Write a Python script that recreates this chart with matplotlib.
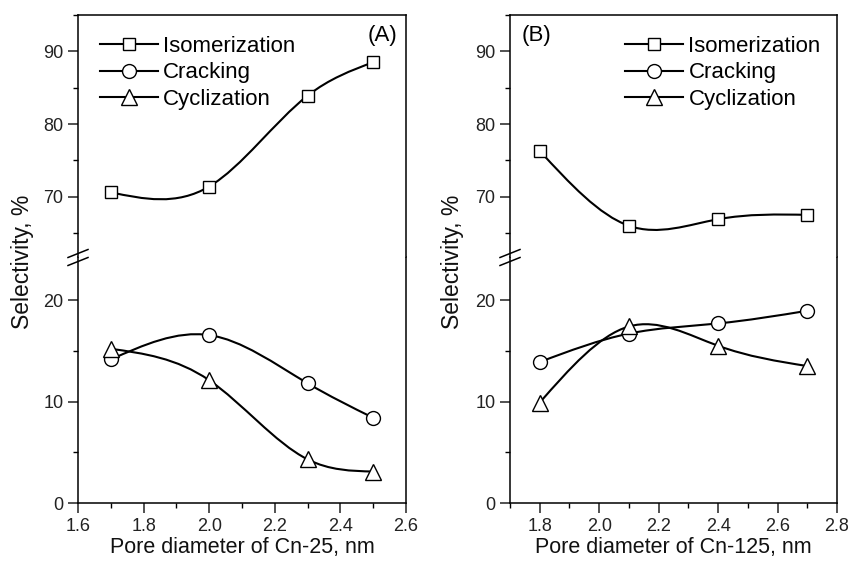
import numpy as np
import matplotlib
matplotlib.use('Agg')
import matplotlib.pyplot as plt
from matplotlib.path import Path
from matplotlib.patches import PathPatch
from matplotlib.lines import Line2D
from matplotlib.ticker import MultipleLocator

plt.rcParams['font.family'] = ['Liberation Sans', 'DejaVu Sans']

# panel A: Cn-25
x_a = [1.7, 2.0, 2.3, 2.5]
iso_a = [70.6, 71.4, 83.9, 88.5]
crack_a = [14.15, 16.55, 11.8, 8.4]
cycl_a = [15.2, 12.1, 4.3, 3.1]

# panel B: Cn-125
x_b = [1.8, 2.1, 2.4, 2.7]
iso_b = [76.3, 66.0, 66.9, 67.5]
crack_b = [13.9, 16.7, 17.7, 18.95]
cycl_b = [9.9, 17.4, 15.5, 13.5]

series_names = ['Isomerization', 'Cracking', 'Cyclization']
markers = ['s', 'o', '^']
msizes = [9, 10, 12]


def spline_path(x, y):
    # natural cubic spline through the points, as bezier segments
    x = np.asarray(x, float)
    y = np.asarray(y, float)
    n = len(x)
    h = np.diff(x)
    A = np.zeros((n, n))
    b = np.zeros(n)
    A[0, 0] = A[-1, -1] = 1
    for i in range(1, n - 1):
        A[i, i - 1] = h[i - 1]
        A[i, i] = 2 * (h[i - 1] + h[i])
        A[i, i + 1] = h[i]
        b[i] = 6 * ((y[i + 1] - y[i]) / h[i] - (y[i] - y[i - 1]) / h[i - 1])
    M = np.linalg.solve(A, b)
    verts = [(x[0], y[0])]
    codes = [Path.MOVETO]
    for i in range(n - 1):
        s = (y[i + 1] - y[i]) / h[i]
        m0 = s - h[i] * (2 * M[i] + M[i + 1]) / 6
        m1 = s + h[i] * (M[i] + 2 * M[i + 1]) / 6
        verts += [(x[i] + h[i] / 3, y[i] + h[i] * m0 / 3),
                  (x[i + 1] - h[i] / 3, y[i + 1] - h[i] * m1 / 3),
                  (x[i + 1], y[i + 1])]
        codes += [Path.CURVE4] * 3
    return Path(verts, codes)


def draw_series(ax, x, y, marker, ms):
    ax.add_patch(PathPatch(spline_path(x, y), fill=False, ec='black', lw=1.5, zorder=2))
    ax.plot(x, y, ls='none', marker=marker, ms=ms, mfc='white', mec='black',
            mew=1.0, zorder=3, clip_on=False)


W, H = 852, 564
fig = plt.figure(figsize=(W / 100, H / 100), dpi=100)

top_px, brk_px, bot_px = 15, 257, 503
panels = [
    dict(x0=78, w=328, xlim=(1.6, 2.6), xt=np.arange(1.6, 2.61, 0.2), x=x_a,
         data=[iso_a, crack_a, cycl_a], tag='(A)', tagpos=(0.973, 0.917), tagha='right',
         xlabel='Pore diameter of Cn-25, nm', legpos=(0.067, 0.915), ylab_x=22),
    dict(x0=510, w=327, xlim=(1.7, 2.8), xt=np.arange(1.8, 2.81, 0.2), x=x_b,
         data=[iso_b, crack_b, cycl_b], tag='(B)', tagpos=(0.037, 0.917), tagha='left',
         xlabel='Pore diameter of Cn-125, nm', legpos=(0.352, 0.915), ylab_x=452),
]

for p in panels:
    lower = fig.add_axes([p['x0'] / W, (H - bot_px) / H, p['w'] / W, (bot_px - brk_px) / H])
    upper = fig.add_axes([p['x0'] / W, (H - brk_px) / H, p['w'] / W, (brk_px - top_px) / H])

    lower.set_ylim(0, 24.25)
    upper.set_ylim(61.7, 95)
    for ax in (lower, upper):
        ax.set_xlim(*p['xlim'])
        for s in ax.spines.values():
            s.set_linewidth(1.1)
        ax.tick_params(which='major', direction='out', length=7, width=1.1,
                       labelsize=13, colors='#222222', right=False, top=False)
        ax.tick_params(which='minor', direction='out', length=3.6, width=1.0,
                       right=False, top=False)
    lower.spines['top'].set_visible(False)
    upper.spines['bottom'].set_visible(False)

    lower.set_xticks(p['xt'])
    lower.set_xticklabels(['%.1f' % v for v in p['xt']])
    lower.xaxis.set_minor_locator(MultipleLocator(0.1))
    lower.set_yticks([0, 10, 20])
    lower.yaxis.set_minor_locator(MultipleLocator(5))
    upper.set_yticks([70, 80, 90])
    upper.yaxis.set_minor_locator(MultipleLocator(5))
    upper.tick_params(axis='x', which='both', bottom=False, labelbottom=False)
    lower.set_xlabel(p['xlabel'], fontsize=15.5, labelpad=2, color='#111111')

    draw_series(upper, p['x'], p['data'][0], markers[0], msizes[0])
    draw_series(lower, p['x'], p['data'][1], markers[1], msizes[1])
    draw_series(lower, p['x'], p['data'][2], markers[2], msizes[2])

    handles = [Line2D([], [], color='black', lw=1.5, marker=m, ms=ms, mfc='white',
                      mec='black', mew=1.0) for m, ms in zip(markers, msizes)]
    upper.legend(handles, series_names, loc='upper left', bbox_to_anchor=p['legpos'],
                 frameon=False, fontsize=16, handlelength=2.6, handletextpad=0.25,
                 labelspacing=0.26, borderaxespad=0, borderpad=0)
    upper.text(p['tagpos'][0], p['tagpos'][1], p['tag'], transform=upper.transAxes,
               ha=p['tagha'], va='center', fontsize=16)

    # axis break marks on the left spine
    xs = p['x0']
    for yb in (253.5, 261.5):
        fig.add_artist(Line2D([(xs - 10) / W, (xs + 10) / W],
                              [(H - yb - 4) / H, (H - yb + 4) / H],
                              transform=fig.transFigure, color='black', lw=1.1))

    fig.text(p['ylab_x'] / W, (H - 262) / H, 'Selectivity, %', rotation=90,
             ha='center', va='center', fontsize=16.5, color='#111111')

fig.savefig('out.png', dpi=100)
